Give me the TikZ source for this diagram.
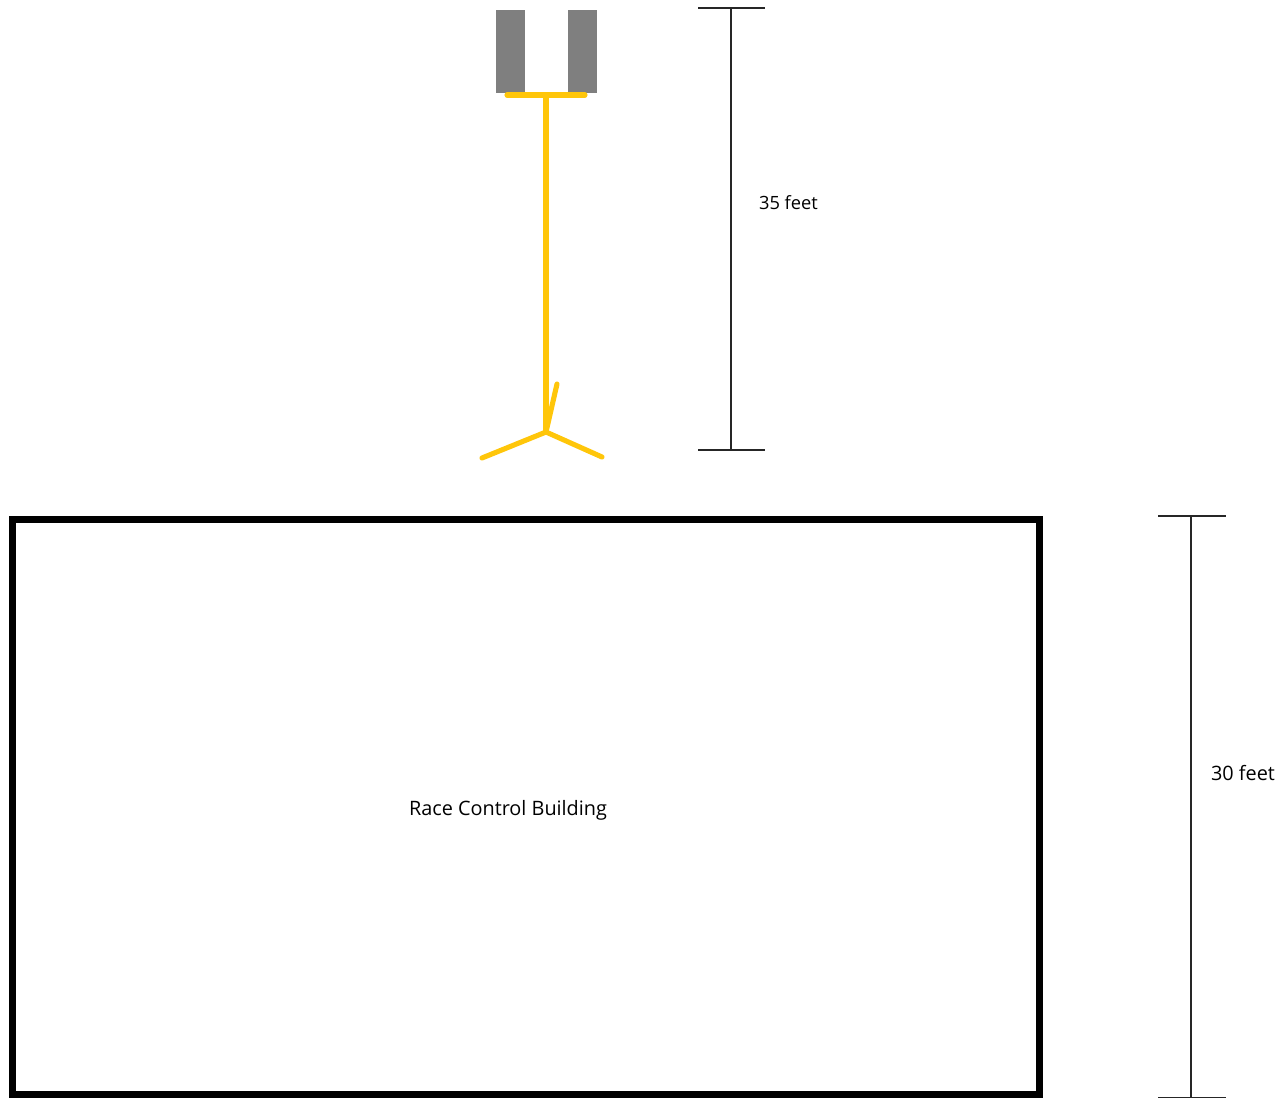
\documentclass[tikz,border=0pt]{standalone}
\usepackage{fontspec}
\setmainfont{Open Sans}
\definecolor{signyellow}{HTML}{FFC60A}
\definecolor{signgray}{HTML}{7F7F7F}
\begin{document}
\begin{tikzpicture}[x=0.02cm, y=-0.02cm]
    \tikzstyle{panel}=[fill=signgray, draw=none, minimum width=0.58cm, minimum height=1.66cm, inner sep=0pt];
    \tikzstyle{pole}=[draw=signyellow, line width=2.9pt, line cap=round];
    \tikzstyle{measure}=[draw=black!85, line width=0.6pt];
    \tikzstyle{caption}=[font=\fontsize{11.3pt}{13pt}\selectfont, inner sep=0pt];

    \useasboundingbox (0,0) rectangle (1286,1098);

    \node[panel] (leftpanel) at (510.5,51.5) {};
    \node[panel] (rightpanel) at (582.5,51.5) {};

    \coordinate (barleft) at (507,95);
    \coordinate (barright) at (585,95);
    \coordinate (poletop) at (546,95);
    \coordinate (polebase) at (546,432);
    \coordinate (footleft) at (482,458);
    \coordinate (footright) at (602,457);
    \coordinate (footback) at (557,384);

    \draw[pole] (barleft) -- (barright);
    \draw[pole, line width=3.5pt, line cap=butt] (poletop) -- (polebase);
    \draw[pole] (polebase) -- (footleft);
    \draw[pole] (polebase) -- (footright);
    \draw[pole] (polebase) -- (footback);

    \coordinate (signtop) at (731,8);
    \coordinate (signbot) at (731,450);
    \draw[measure] (signtop) -- (signbot);
    \draw[measure] ([xshift=-0.66cm]signtop) -- ([xshift=0.68cm]signtop);
    \draw[measure] ([xshift=-0.66cm]signbot) -- ([xshift=0.68cm]signbot);
    \node[caption, font=\fontsize{10.4pt}{12pt}\selectfont] (signlabel) at (788.5,203) {35 feet};

    \draw[black, line width=4pt] (12.5,519.5) rectangle (1039.5,1095);
    \node[caption] (building) at (508,810) {Race Control Building};

    \coordinate (housetop) at (1191,516);
    \coordinate (housebot) at (1191,1097.5);
    \draw[measure] (housetop) -- (housebot);
    \draw[measure] ([xshift=-0.66cm]housetop) -- ([xshift=0.7cm]housetop);
    \draw[measure] ([xshift=-0.66cm]housebot) -- ([xshift=0.7cm]housebot);
    \node[caption] (houselabel) at (1243,773) {30 feet};
\end{tikzpicture}
\end{document}
